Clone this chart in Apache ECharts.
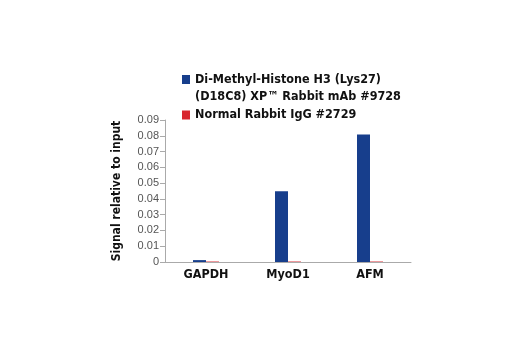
<!DOCTYPE html>
<html><head><meta charset="utf-8">
<script src="https://cdn.jsdelivr.net/npm/echarts@6/dist/echarts.min.js"></script>
<style>html,body{margin:0;padding:0;background:#fff}#c{width:520px;height:350px}</style>
</head><body><div id="c"></div>
<script>
const categories = ['GAPDH', 'MyoD1', 'AFM'];
const seriesNames = ['Di-Methyl-Histone H3 (Lys27)', 'Normal Rabbit IgG #2729'];
const legendLine2 = '(D18C8) XP™ Rabbit mAb #9728';
const diMethylValues = [0.0012, 0.0449, 0.0808];
const igGValues = [0.0003, 0.0003, 0.0003];
const yTicks = [0, 0.01, 0.02, 0.03, 0.04, 0.05, 0.06, 0.07, 0.08, 0.09];
const yTitle = 'Signal relative to input';

const COND = '"Liberation Sans Narrow", "DejaVu Sans Condensed", "Arial Narrow", sans-serif';
const chart = echarts.init(document.getElementById('c'), null, {renderer: 'canvas'});
chart.setOption({
  animation: false,
  backgroundColor: '#fff',
  grid: {left: 165, right: 109, top: 120, bottom: 88, containLabel: false},
  legend: {
    orient: 'vertical', left: 182, top: 73, padding: 0, itemWidth: 8, itemHeight: 9, itemGap: 22.5,
    icon: 'rect',
    data: seriesNames,
    textStyle: {fontFamily: COND, fontWeight: 'bold', fontSize: 12.5, color: '#111'}
  },
  graphic: [{
    type: 'text', left: 195, top: 90,
    style: {text: legendLine2, font: 'bold 12.5px ' + COND, fill: '#111'}
  }],
  xAxis: {
    type: 'category', data: categories,
    axisLine: {lineStyle: {color: '#aaa', width: 1}},
    axisTick: {show: false},
    axisLabel: {fontFamily: COND, fontWeight: 'bold', fontSize: 12.5, color: '#111', margin: 6}
  },
  yAxis: {
    type: 'value', min: 0, max: 0.09, interval: 0.01,
    name: yTitle, nameLocation: 'middle', nameGap: 42, nameRotate: 90,
    nameTextStyle: {fontFamily: COND, fontWeight: 'bold', fontSize: 12, color: '#111'},
    axisLine: {show: true, lineStyle: {color: '#aaa', width: 1}},
    axisTick: {show: true, length: 5, lineStyle: {color: '#aaa'}},
    splitLine: {show: false},
    axisLabel: {fontFamily: '"Liberation Sans", Arial, sans-serif', fontSize: 11, color: '#555', margin: 6,
      formatter: v => { const t = yTicks.find(x => Math.abs(x - v) < 1e-9); return t === 0 ? '0' : (t !== undefined ? t.toFixed(2) : ''); }}
  },
  series: [
    {name: seriesNames[0], type: 'bar', data: diMethylValues, barWidth: 13, barGap: '0%', itemStyle: {color: '#173e8c'}},
    {name: seriesNames[1], type: 'bar', data: igGValues, barWidth: 13, itemStyle: {color: '#d8262e'}}
  ]
});
</script></body></html>
